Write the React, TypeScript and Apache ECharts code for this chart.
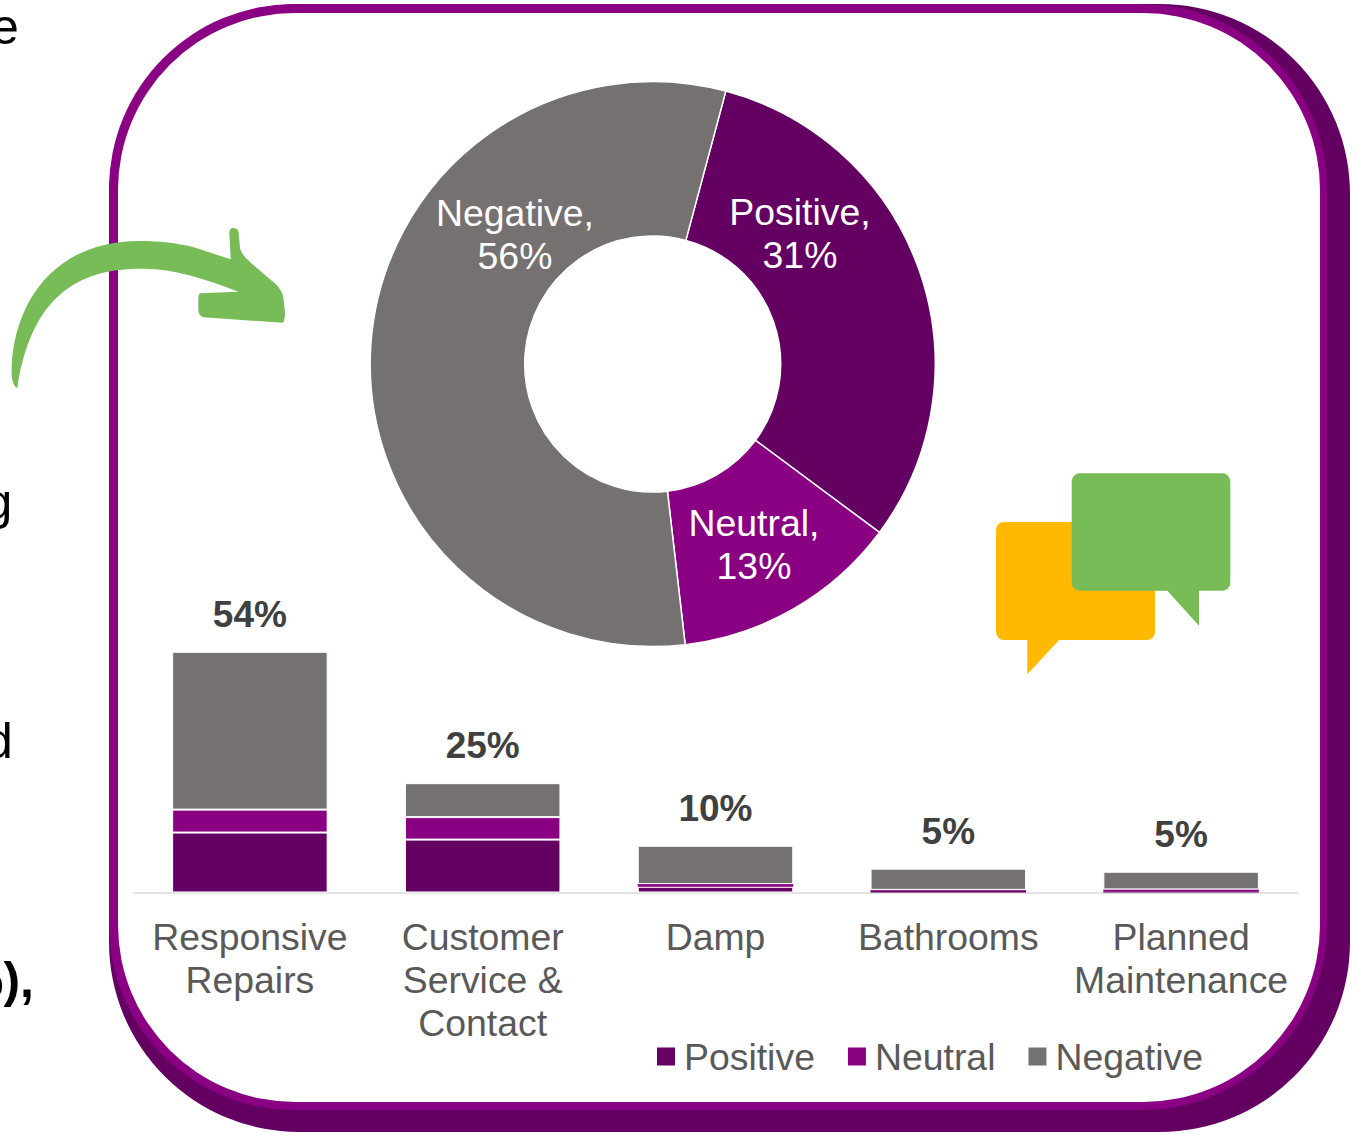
import React, { useEffect, useRef } from "react";
import * as echarts from "echarts";

const categories = ["Responsive\nRepairs", "Customer\nService &\nContact", "Damp", "Bathrooms", "Planned\nMaintenance"];
const positiveValues = [13.6, 12.0, 1.3, 0.4, 0.3];
const neutralValues = [5.2, 5.1, 0.6, 0.2, 0.4];
const negativeValues = [35.8, 7.7, 8.7, 4.8, 4.0];
const totalLabels = ["54%", "25%", "10%", "5%", "5%"];
const seriesNames = ["Positive", "Neutral", "Negative"];
const overallValues = [31, 13, 56];
const pieLabelCentres = [[800, 233], [754, 544], [515, 234]];

const DARK = "#640061";
const PURPLE = "#8A0082";
const GREY = "#767171";
const GREEN = "#77BC57";
const YELLOW = "#FFBA00";
const FONT = "'Liberation Sans', Arial, sans-serif";
const TEXT = "#595959";

const arrowPath =
  "M17.3 388 C13 386 11 378 11.7 367 C14 305 52 241 140 241 C160 241 176 243 193 247 L230.7 259.3 L229.3 233 C229.5 229 231 228 233.3 228 C237 228 238.7 231 238.7 233 L240 248 C242 255 246 258 250 262 L276.7 285 C281 290 283.3 295 283.3 297 L285 313 C285 318 284 322 282.7 322.7 L203.3 317.3 C199 316 198.3 312 198.3 308 L198.3 300 C198.3 296 199 294 200 293.3 L238.3 291.7 C205 279 175 268.7 143.3 268.7 C85 268 32 290 17.3 388 Z";
echarts.graphic.registerShape("greenArrow", echarts.graphic.extendPath(arrowPath, {}) as any);

const bodyText = (text: string, x: number, y: number, bold = false) => ({
  type: "text",
  x,
  y,
  style: { text, fill: "#000", font: `${bold ? "bold " : ""}50px ${FONT}`, textVerticalAlign: "bottom" },
});

const barData = (values: number[], color: string) =>
  values.map((value) => ({
    value,
    itemStyle: { color, borderColor: "#fff", borderWidth: value < 1 ? 0 : 1 },
  }));

export default function App() {
  const ref = useRef<HTMLDivElement>(null);
  useEffect(() => {
    const chart = echarts.init(ref.current!, undefined, { renderer: "svg" });
    const option: any = {
      animation: false,
      backgroundColor: "#fff",
      textStyle: { fontFamily: FONT },
      graphic: [
        { type: "rect", shape: { x: 109, y: 4, width: 1241, height: 1128, r: 190 }, style: { fill: DARK } },
        { type: "rect", shape: { x: 109, y: 4, width: 1218, height: 1106, r: 185 }, style: { fill: PURPLE } },
        { type: "rect", shape: { x: 118, y: 13, width: 1202, height: 1089, r: 177 }, style: { fill: "#fff" } },
        bodyText("e", -9, 51.5),
        bodyText("g", -15.5, 527),
        bodyText("d", -15, 766),
        bodyText("%),", -41, 1005, true),
        { type: "greenArrow", x: 0, y: 0, style: { fill: GREEN } },
        { type: "rect", shape: { x: 996, y: 522, width: 159, height: 118, r: 8 }, style: { fill: YELLOW } },
        { type: "polygon", shape: { points: [[1027.3, 639], [1027.3, 674.3], [1060, 639]] }, style: { fill: YELLOW } },
        { type: "rect", shape: { x: 1071.7, y: 473.3, width: 158.6, height: 117.4, r: 8 }, style: { fill: GREEN } },
        { type: "polygon", shape: { points: [[1166.7, 590], [1199, 625.7], [1199, 590]] }, style: { fill: GREEN } },
      ],
      legend: {
        data: seriesNames,
        left: 652,
        top: 1033,
        icon: "rect",
        itemWidth: 18,
        itemHeight: 18,
        itemGap: 33,
        selectedMode: false,
        itemStyle: { borderWidth: 0 },
        textStyle: { color: TEXT, fontSize: 37.4, fontFamily: FONT, padding: [0, 0, 0, 4] },
      },
      grid: { left: 133.5, width: 1164, top: 628, height: 264.5, containLabel: false },
      xAxis: {
        type: "category",
        data: categories,
        axisTick: { show: false },
        axisLine: { lineStyle: { color: "#D9D9D9", width: 1.5 } },
        axisLabel: {
          interval: 0,
          color: TEXT,
          fontSize: 37.4,
          fontFamily: FONT,
          lineHeight: 43,
          margin: 23,
          align: "center",
        },
      },
      yAxis: { type: "value", min: 0, max: 60, show: false },
      series: [
        {
          type: "pie",
          name: "Overall",
          center: [652.7, 364],
          radius: [128, 282.5],
          startAngle: 75,
          data: seriesNames.map((name, i) => ({
            name,
            value: overallValues[i],
            itemStyle: { color: [DARK, PURPLE, GREY][i] },
          })),
          itemStyle: { borderColor: "#fff", borderWidth: 1.5 },
          label: {
            show: true,
            position: "inside",
            color: "#fff",
            fontSize: 37.4,
            lineHeight: 43,
            fontFamily: FONT,
            align: "center",
            formatter: "{b},\n{d}%",
          },
          labelLine: { show: false },
          labelLayout: (p: any) => ({
            x: pieLabelCentres[p.dataIndex][0],
            y: pieLabelCentres[p.dataIndex][1],
            align: "center",
            verticalAlign: "middle",
          }),
          z: 3,
        },
        {
          type: "bar",
          name: "Positive",
          stack: "total",
          barWidth: 155.5,
          data: barData(positiveValues, DARK),
          itemStyle: { color: DARK },
        },
        {
          type: "bar",
          name: "Neutral",
          stack: "total",
          data: barData(neutralValues, PURPLE),
          itemStyle: { color: PURPLE },
        },
        {
          type: "bar",
          name: "Negative",
          stack: "total",
          data: barData(negativeValues, GREY),
          itemStyle: { color: GREY },
          label: {
            show: true,
            position: "top",
            distance: 19,
            color: "#404040",
            fontSize: 37,
            fontWeight: "bold",
            fontFamily: FONT,
            formatter: (p: any) => totalLabels[p.dataIndex],
          },
        },
      ],
    };
    chart.setOption(option);
    return () => chart.dispose();
  }, []);
  return (
    <div
      ref={ref}
      style={{ position: "absolute", left: 0, top: 0, width: 1353, height: 1132, overflow: "hidden" }}
    />
  );
}
